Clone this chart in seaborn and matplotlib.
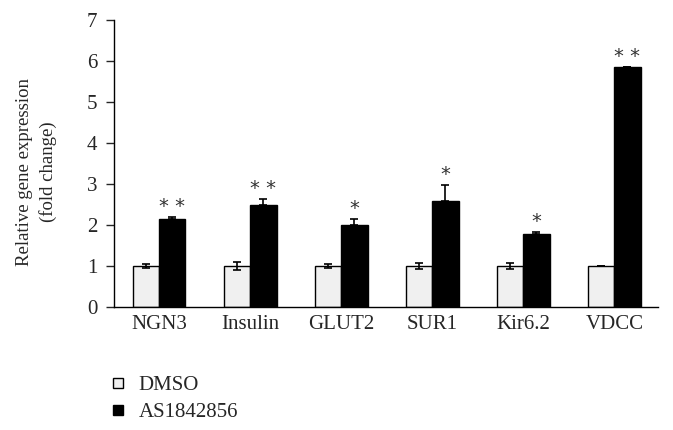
import matplotlib
matplotlib.use("Agg")
import matplotlib.pyplot as plt
import seaborn as sns
import pandas as pd
import numpy as np
from matplotlib.lines import Line2D

genes = ["NGN3", "Insulin", "GLUT2", "SUR1", "Kir6.2", "VDCC"]
groups = ["DMSO", "AS1842856"]
dmso_vals = [1.0, 1.0, 1.0, 1.0, 1.0, 1.0]
dmso_err = [0.06, 0.10, 0.05, 0.08, 0.07, 0.0]
as_vals = [2.14, 2.50, 2.01, 2.58, 1.78, 5.85]
as_err = [0.06, 0.14, 0.13, 0.39, 0.05, 0.01]
signif = ["**", "**", "*", "*", "*", "**"]

sns.set_style("white")
plt.rcParams['font.family'] = ['Liberation Serif', 'DejaVu Serif']

df = pd.DataFrame({
    "gene": genes * 2,
    "group": [groups[0]] * 6 + [groups[1]] * 6,
    "value": dmso_vals + as_vals,
})

fig = plt.figure(figsize=(6.73, 4.30), dpi=100)
ax = fig.add_axes([114/673, 1 - 307/430, (658-114)/673, (307-20)/430])

sns.barplot(data=df, x="gene", y="value", hue="group", hue_order=groups,
            palette={"DMSO": "#f0f0f0", "AS1842856": "#000000"},
            width=0.58, edgecolor="black", linewidth=1.0, errorbar=None,
            legend=False, ax=ax)

errs = [dmso_err, as_err]
vals = [dmso_vals, as_vals]
bar_containers = list(ax.containers)
for gi, cont in enumerate(bar_containers):
    xs = [p.get_x() + p.get_width() / 2 for p in cont.patches]
    if gi == 0:
        ax.errorbar(xs, vals[gi], yerr=errs[gi], fmt="none", ecolor="black",
                    elinewidth=1.2, capsize=3, capthick=1.2)
    else:
        ax.errorbar(xs, vals[gi], yerr=[np.zeros(len(xs)), errs[gi]], fmt="none",
                    ecolor="black", elinewidth=1.2, capsize=3, capthick=1.2)
        for x, v, e, s in zip(xs, vals[gi], errs[gi], signif):
            ax.text(x, v + e + 0.02, " ".join(s), ha="center", va="bottom",
                    fontsize=14, family=['DejaVu Sans'], color="#333333")

ax.set_xlim(-0.495, 5.48)
ax.set_ylim(0, 7)
ax.set_yticks(range(0, 8))
ax.set_xlabel("")
ax.set_ylabel("Relative gene expression\n(fold change)", fontsize=13.5,
              linespacing=1.4)
ax.yaxis.set_label_coords(-0.105, 0.47)
ax.tick_params(axis="y", labelsize=15, length=6, width=1, direction="out",
               left=True, pad=6)
ax.tick_params(axis="x", labelsize=15, length=0, pad=6)
for s in ["top", "right"]:
    ax.spines[s].set_visible(False)
for s in ["left", "bottom"]:
    ax.spines[s].set_color("black")
    ax.spines[s].set_linewidth(1.0)

handles = [Line2D([], [], marker="s", linestyle="none", markersize=7,
                  markerfacecolor="#f0f0f0", markeredgecolor="black", markeredgewidth=1),
           Line2D([], [], marker="s", linestyle="none", markersize=7,
                  markerfacecolor="black", markeredgecolor="black")]
fig.legend(handles, groups, loc="upper left", bbox_to_anchor=(95/673, 1 - 361/430),
           frameon=False, fontsize=15, handletextpad=0.6, labelspacing=0.35,
           handlelength=0.8, borderpad=0.2)

fig.savefig("out.png", dpi=100)
